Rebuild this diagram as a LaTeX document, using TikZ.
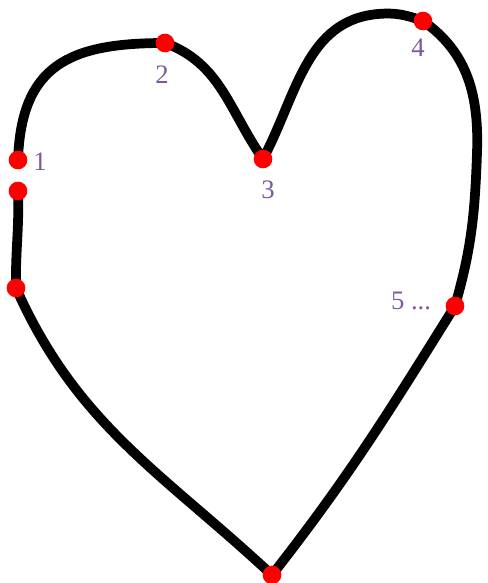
\documentclass[tikz,border=0pt]{standalone}
\usepackage{fontspec}
\setmainfont{Liberation Serif}
\definecolor{lab}{RGB}{125,88,158}
\definecolor{dotred}{RGB}{255,0,0}
\tikzset{
  heart/.style={line width=7.3pt, line cap=round, line join=round, black},
  dot/.style={circle, fill=dotred, inner sep=0pt, minimum size=14pt},
  lbl/.style={text=lab, font=\fontsize{20}{24}\selectfont, inner sep=0pt}
}
\begin{document}
\begin{tikzpicture}[x=0.75pt,y=0.75pt]
\useasboundingbox (0,0) rectangle (488,583);
\coordinate (c1) at (18,423);
\coordinate (c1b) at (18,392);
\coordinate (c1c) at (16,295);
\coordinate (cb) at (272,8);
\coordinate (c5) at (455,277);
\coordinate (cr) at (477,430);
\coordinate (c4) at (423,562);
\coordinate (ct) at (378,569);
\coordinate (c3) at (263,424);
\coordinate (c2) at (165,540);
\draw[heart] (c1b) to[out=-88,in=91] (c1c)
  to[out=-66,in=137] (cb)
  to[out=52,in=238] (c5)
  to[out=74,in=-92] (cr)
  to[out=88,in=-35] (c4)
  to[out=160,in=5] (ct)
  to[out=185,in=62] (c3)
  to[out=125,in=-20] (c2)
  to[out=180,in=88,looseness=1.3] (c1);
\foreach \n in {c1,c1b,c1c,cb,c5,c4,c3,c2} \node[dot] (d\n) at (\n) {};
\node[lbl] (l1) at (40,421) {1};
\node[lbl] (l2) at (162,508) {2};
\node[lbl] (l3) at (268,393) {3};
\node[lbl] (l4) at (418,535) {4};
\node[lbl] (l5) at (411,282) {5 ...};
\end{tikzpicture}
\end{document}
